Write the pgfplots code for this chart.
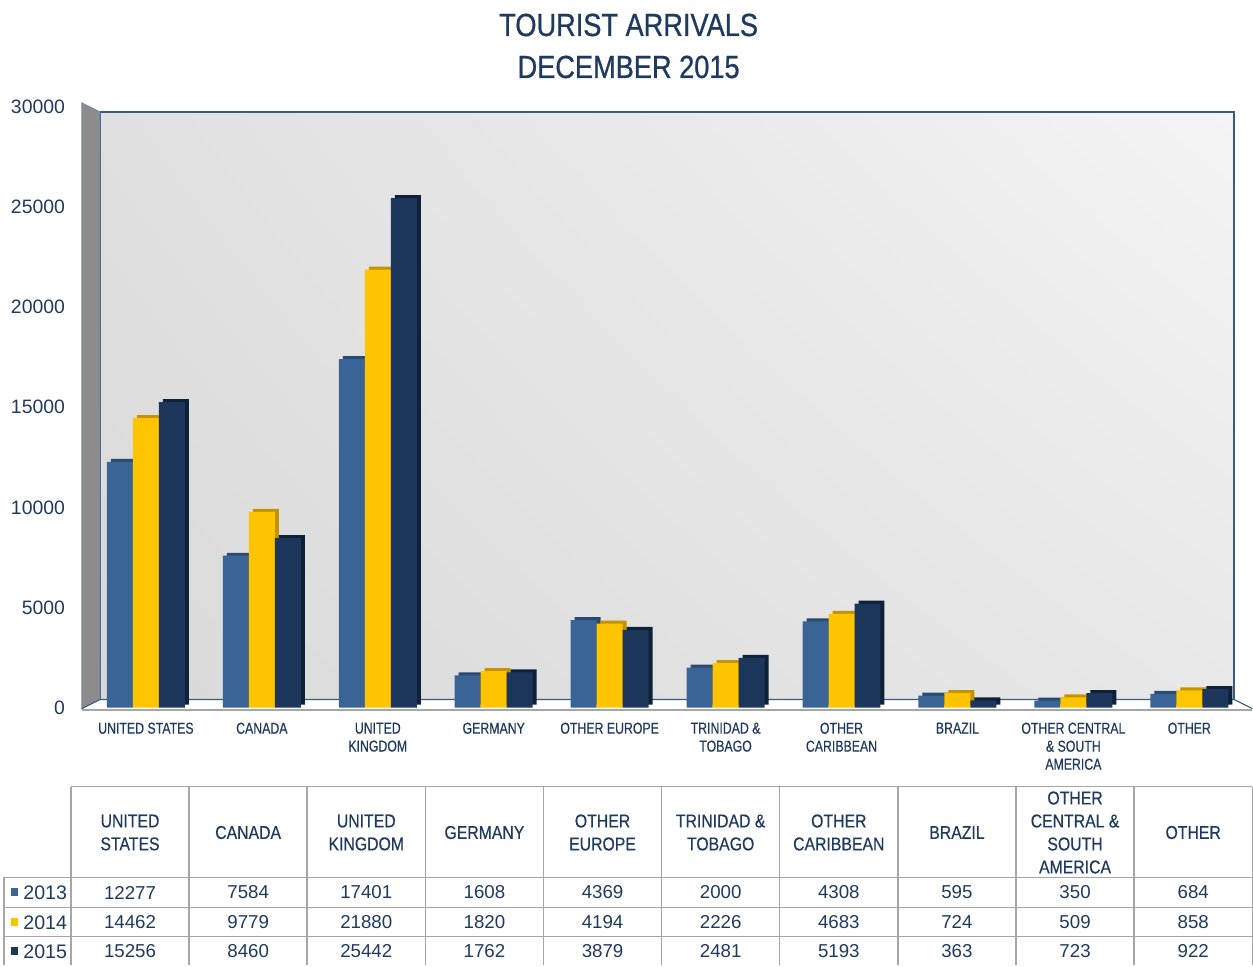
\documentclass[border=0pt]{standalone}
\usepackage{pgfplots}
\pgfplotsset{compat=1.18}
\usepackage{pgfplotstable}
\usetikzlibrary{shadings}
\usepackage{fontspec}
\setmainfont{Liberation Sans}
\newfontfamily\twtick[FakeStretch=0.78,FakeBold=0.5]{Liberation Sans}
\newfontfamily\twhead[FakeStretch=0.85,FakeBold=0.5]{Liberation Sans}
\newfontfamily\twtitle[FakeStretch=0.85,FakeBold=0.8]{Liberation Sans}
\definecolor{navy}{HTML}{1F3A5F}
\definecolor{cA}{HTML}{3A6496}
\definecolor{cAd}{HTML}{2A4A73}
\definecolor{cB}{HTML}{FFC400}
\definecolor{cBd}{HTML}{C49400}
\definecolor{cC}{HTML}{1D375C}
\definecolor{cCd}{HTML}{0F2139}
\definecolor{gridc}{HTML}{A6A6A6}
\definecolor{wall}{HTML}{3C5A82}
\definecolor{wUL}{HTML}{E0E0E0}
\definecolor{wUR}{HTML}{F4F4F4}
\definecolor{wLL}{HTML}{D9D9D9}
\definecolor{wLR}{HTML}{E8E8E8}
\definecolor{side}{HTML}{8C8C8C}

\pgfplotstableread{
idx a b c
0 12277 14462 15256
1 7584 9779 8460
2 17401 21880 25442
3 1608 1820 1762
4 4369 4194 3879
5 2000 2226 2481
6 4308 4683 5193
7 595 724 363
8 350 509 723
9 684 858 922
}\data

\begin{document}
\begin{tikzpicture}
\begin{scope}[x=0.5pt,y=-0.5pt]
\path[use as bounding box] (0,0) rectangle (1253,966);
% title
\node[navy, align=center, font=\twtitle\fontsize{16}{21}\selectfont] at (629,46) {TOURIST ARRIVALS\\DECEMBER 2015};
% back wall
\shade[upper left=wUL, upper right=wUR, lower left=wLL, lower right=wLR] (100,112) rectangle (1235,700);
\draw[wall, line width=1pt] (100,700) -- (100,112) -- (1235,112) -- (1235,700);
% side wall
\fill[side] (82,103) -- (100,112) -- (100,700) -- (82,709) -- cycle;
\draw[wall!70, line width=0.5pt] (82,103) -- (100,112) -- (100,700) -- (82,709) -- cycle;
% floor
\fill[white] (82,709) -- (100,700) -- (1235,700) -- (1253,709) -- cycle;
\draw[wall, line width=0.6pt] (82,709) -- (100,700) -- (1235,700) -- (1253,709);
\draw[gridc, line width=1pt] (82,710) -- (1253,710);
\end{scope}

\begin{axis}[at={(44pt,-354pt)}, anchor=south west, scale only axis,
  width=580pt, height=300.5pt,
  xmin=-0.5, xmax=9.5, ymin=0, ymax=30000,
  axis line style={draw=none}, major tick length=0pt,
  ytick={0,5000,...,30000}, xtick={0,...,9},
  scaled y ticks=false,
  /pgf/number format/assume math mode=true,
  /pgf/number format/1000 sep={},
  yticklabel style={navy, font=\fontsize{9.7}{11}\selectfont, xshift=-8pt},
  xticklabel style={navy, font=\twtick\fontsize{7.9}{9}\selectfont, align=center, anchor=north, yshift=-4pt},
  xticklabels={{UNITED STATES},{CANADA},{UNITED\\KINGDOM},{GERMANY},{OTHER EUROPE},{TRINIDAD \&\\TOBAGO},{OTHER\\CARIBBEAN},{BRAZIL},{OTHER CENTRAL\\\& SOUTH\\AMERICA},{OTHER}},
  clip=false]
\addplot[ybar, bar width=13pt, bar shift=-13pt, fill=cAd, draw=none, xshift=2pt, yshift=1.5pt] table[x=idx,y=a]{\data};
\addplot[ybar, bar width=13pt, bar shift=-13pt, fill=cA, draw=none] table[x=idx,y=a]{\data};
\addplot[ybar, bar width=13pt, bar shift=0pt, fill=cBd, draw=none, xshift=2pt, yshift=1.5pt] table[x=idx,y=b]{\data};
\addplot[ybar, bar width=13pt, bar shift=0pt, fill=cB, draw=none] table[x=idx,y=b]{\data};
\addplot[ybar, bar width=13pt, bar shift=13pt, fill=cCd, draw=none, xshift=2pt, yshift=1.5pt] table[x=idx,y=c]{\data};
\addplot[ybar, bar width=13pt, bar shift=13pt, fill=cC, draw=none] table[x=idx,y=c]{\data};
\end{axis}

\begin{scope}[x=0.5pt,y=-0.5pt]
% table lines
\draw[gridc, line width=0.75pt] (71,787) -- (1253,787);
\foreach \yy in {878,908,937} {\draw[gridc, line width=0.75pt] (4,\yy) -- (1253,\yy);}
\draw[gridc, line width=0.75pt] (4,878) -- (4,966);
\foreach \k in {0,...,10} {\draw[gridc, line width=0.75pt] ({71+118.2*\k},787) -- ({71+118.2*\k},966);}
% header
\foreach \lab [count=\k from 0] in {{UNITED\\STATES},{CANADA},{UNITED\\KINGDOM},{GERMANY},{OTHER\\EUROPE},{TRINIDAD \&\\TOBAGO},{OTHER\\CARIBBEAN},{BRAZIL},{OTHER\\CENTRAL \&\\SOUTH\\AMERICA},{OTHER}} {
  \node[navy, align=center, font=\twhead\fontsize{9.3}{11.5}\selectfont] at ({130.1+118.2*\k},833) {\lab};
}
% numbers
\foreach \k in {0,...,9} {
  \foreach \col/\yy in {a/893,b/923,c/952} {
    \pgfplotstablegetelem{\k}{\col}\of\data
    \node[navy, font=\fontsize{9.35}{11}\selectfont] at ({130.1+118.2*\k},\yy) {\pgfplotsretval};
  }
}
% row labels
\fill[cA] (11,889) rectangle (18,897);
\node[anchor=west, navy, font=\fontsize{9.8}{11}\selectfont, inner sep=0pt] at (23,893) {2013};
\fill[cB] (11,919) rectangle (18,927);
\node[anchor=west, navy, font=\fontsize{9.8}{11}\selectfont, inner sep=0pt] at (23,923) {2014};
\fill[cC] (11,948) rectangle (18,956);
\node[anchor=west, navy, font=\fontsize{9.8}{11}\selectfont, inner sep=0pt] at (23,952) {2015};
\end{scope}
\end{tikzpicture}
\end{document}
